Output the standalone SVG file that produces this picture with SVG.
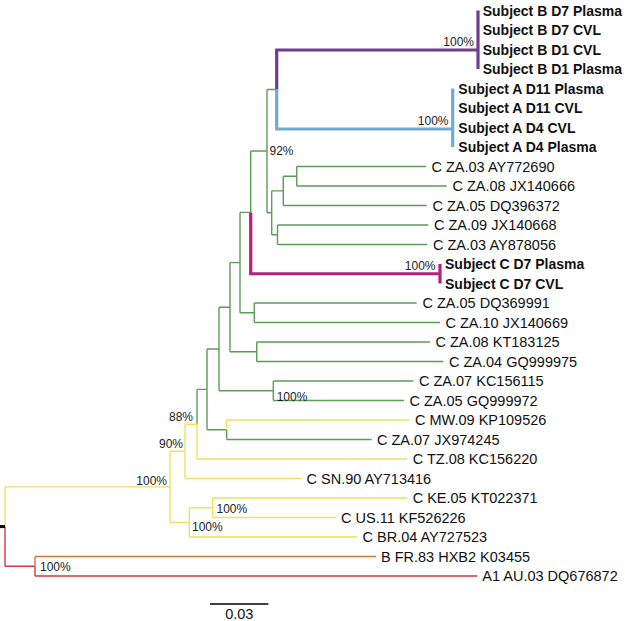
<svg xmlns="http://www.w3.org/2000/svg" width="625" height="621" viewBox="0 0 625 621">
<style>
.g{fill:none;stroke:#5f9b58;stroke-width:1.4}
.y{fill:none;stroke:#f0e05c;stroke-width:1.4}
.r{fill:none;stroke:#d43a3e;stroke-width:1.4}
.o{fill:none;stroke:#c97b3f;stroke-width:1.4}
.pu{fill:none;stroke:#6b3f8e;stroke-width:3.2}
.bl{fill:none;stroke:#72aad6;stroke-width:3.2}
.mg{fill:none;stroke:#b3207d;stroke-width:3.2}
.k{fill:none;stroke:#000;stroke-width:1.5}
.t{font-family:"Liberation Sans",Arial,sans-serif;font-size:14.5px;fill:#111}
.tb{font-family:"Liberation Sans",Arial,sans-serif;font-size:14px;font-weight:bold;fill:#111}
.s{font-family:"Liberation Sans",Arial,sans-serif;font-size:12px;fill:#222}
</style>
<rect width="625" height="621" fill="#fff"/>
<g id="connectors">
<path class="g" d="M267 89.5H276.7M267 89.5V212.8M267 212.8H271.7M271.7 190.9V234.75M271.7 190.9H283.3M283.3 176.25V205.5M283.3 176.25H296.7M296.7 166.5V186M296.7 166.5H426M296.7 186H446.7M283.3 205.5H426.7M271.7 234.75H277.5M277.5 225V244.5M277.5 225H428.3M277.5 244.5H427.3M250.7 151H267M250.7 151V212.4M240 212.4H250.7M240 212.4V312.75M240 312.75H254.3M254.3 303V322.5M254.3 303H416.7M254.3 322.5H440M230 262.6H240M230 262.6V351.75M230 351.75H256.7M256.7 342V361.5M256.7 342H430M256.7 361.5H443.3M219 307.2H230M219 307.2V390.75M219 390.75H273.3M273.3 381V400.5M273.3 381H413.3M273.3 400.5H404M207 349H219M207 349V429.75M207 429.75H226.7M226.7 429.75V439.5M226.7 439.5H371.7M197 389.4H207M197 389.4V424.2"/>
<path class="y" d="M226.7 420V429.75M226.7 420H409.3M197 424.2V459M197 459H407.3M185 424.2H197M185 424.2V478.5M185 478.5H301.7M170 451.3H185M170 451.3V522.4M170 522.4H189.3M189.3 507.75V537M189.3 507.75H212.7M212.7 498V517.5M212.7 498H407.3M212.7 517.5H336M189.3 537H357.3M5 486.9H170M5 486.9V526.6"/>
<path class="r" d="M5 526.6V566.25M5 566.25H35M35 566.25V576M35 576H477.3"/>
<path class="o" d="M35 556.5V566.25M35 556.5H376"/>
<path d="M0 526.6H5" stroke="#000" stroke-width="3"/>
<path class="pu" d="M276.7 89.5V50H478M478 10.5V69"/>
<path class="bl" d="M276.7 89.5V129H452.7M452.7 88.5V147"/>
<path class="mg" d="M250.7 212.4V273.75H440M440 264V283.5"/>
</g>
<g id="tip-B-D7-Plasma"><text class="tb" x="482.7" y="15.5">Subject B D7 Plasma</text></g>
<g id="tip-B-D7-CVL"><text class="tb" x="482.7" y="35">Subject B D7 CVL</text></g>
<g id="tip-B-D1-CVL"><text class="tb" x="482.7" y="54.5">Subject B D1 CVL</text></g>
<g id="tip-B-D1-Plasma"><text class="tb" x="482.7" y="74">Subject B D1 Plasma</text></g>
<g id="tip-A-D11-Plasma"><text class="tb" x="458.3" y="93.5">Subject A D11 Plasma</text></g>
<g id="tip-A-D11-CVL"><text class="tb" x="458.3" y="113">Subject A D11 CVL</text></g>
<g id="tip-A-D4-CVL"><text class="tb" x="458.3" y="132.5">Subject A D4 CVL</text></g>
<g id="tip-A-D4-Plasma"><text class="tb" x="458.3" y="152">Subject A D4 Plasma</text></g>
<g id="tip-AY772690"><text class="t" x="431.5" y="171.7">C ZA.03 AY772690</text></g>
<g id="tip-JX140666"><text class="t" x="452.5" y="191.2">C ZA.08 JX140666</text></g>
<g id="tip-DQ396372"><text class="t" x="432.5" y="210.7">C ZA.05 DQ396372</text></g>
<g id="tip-JX140668"><text class="t" x="434" y="230.2">C ZA.09 JX140668</text></g>
<g id="tip-AY878056"><text class="t" x="433" y="249.7">C ZA.03 AY878056</text></g>
<g id="tip-C-D7-Plasma"><text class="tb" x="445" y="269">Subject C D7 Plasma</text></g>
<g id="tip-C-D7-CVL"><text class="tb" x="445" y="288.5">Subject C D7 CVL</text></g>
<g id="tip-DQ369991"><text class="t" x="422.5" y="308.2">C ZA.05 DQ369991</text></g>
<g id="tip-JX140669"><text class="t" x="445.5" y="327.7">C ZA.10 JX140669</text></g>
<g id="tip-KT183125"><text class="t" x="435.5" y="347.2">C ZA.08 KT183125</text></g>
<g id="tip-GQ999975"><text class="t" x="449" y="366.7">C ZA.04 GQ999975</text></g>
<g id="tip-KC156115"><text class="t" x="419" y="386.2">C ZA.07 KC156115</text></g>
<g id="tip-GQ999972"><text class="t" x="409.5" y="405.7">C ZA.05 GQ999972</text></g>
<g id="tip-KP109526"><text class="t" x="415" y="425.2">C MW.09 KP109526</text></g>
<g id="tip-JX974245"><text class="t" x="377" y="444.7">C ZA.07 JX974245</text></g>
<g id="tip-KC156220"><text class="t" x="412.7" y="464.2">C TZ.08 KC156220</text></g>
<g id="tip-AY713416"><text class="t" x="306.5" y="483.7">C SN.90 AY713416</text></g>
<g id="tip-KT022371"><text class="t" x="412.7" y="503.2">C KE.05 KT022371</text></g>
<g id="tip-KF526226"><text class="t" x="341" y="522.7">C US.11 KF526226</text></g>
<g id="tip-AY727523"><text class="t" x="362.5" y="542.2">C BR.04 AY727523</text></g>
<g id="tip-K03455"><text class="t" x="381" y="561.7">B FR.83 HXB2 K03455</text></g>
<g id="tip-DQ676872"><text class="t" x="482.3" y="581.2">A1 AU.03 DQ676872</text></g>
<g id="support">
<text class="s" x="474" y="46" text-anchor="end">100%</text>
<text class="s" x="448.5" y="124.5" text-anchor="end">100%</text>
<text class="s" x="269.5" y="155">92%</text>
<text class="s" x="435.5" y="269.5" text-anchor="end">100%</text>
<text class="s" x="276.7" y="401">100%</text>
<text class="s" x="193" y="420.5" text-anchor="end">88%</text>
<text class="s" x="183" y="448" text-anchor="end">90%</text>
<text class="s" x="167" y="484.5" text-anchor="end">100%</text>
<text class="s" x="216.5" y="513">100%</text>
<text class="s" x="192" y="531">100%</text>
<text class="s" x="40" y="571">100%</text>
</g>
<g id="scale-bar">
<path class="k" d="M210 604H268.3"/>
<text class="t" x="239.3" y="618.5" text-anchor="middle">0.03</text>
</g>
</svg>
